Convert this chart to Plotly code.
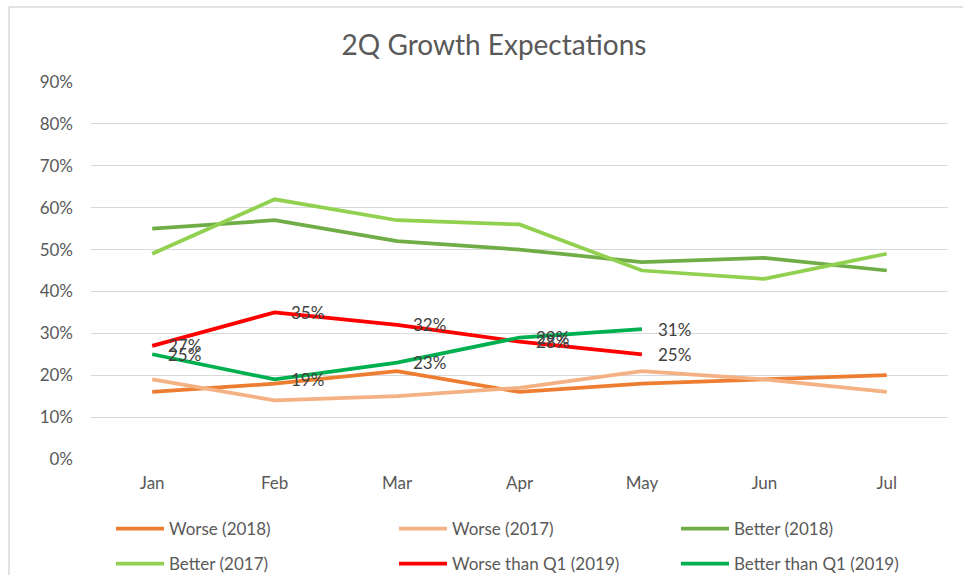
import plotly.graph_objects as go

months = ["Jan", "Feb", "Mar", "Apr", "May", "Jun", "Jul"]
worse_2018 = [16, 18, 21, 16, 18, 19, 20]
worse_2017 = [19, 14, 15, 17, 21, 19, 16]
better_2018 = [55, 57, 52, 50, 47, 48, 45]
better_2017 = [49, 62, 57, 56, 45, 43, 49]
worse_q1_2019 = [27, 35, 32, 28, 25]
better_q1_2019 = [25, 19, 23, 29, 31]

FONT = "Lato, Open Sans, sans-serif"
GREY = "#595959"

series = [
    ("Worse (2018)", worse_2018, "#ED7D31"),
    ("Worse (2017)", worse_2017, "#F4B183"),
    ("Better (2018)", better_2018, "#70AD47"),
    ("Better (2017)", better_2017, "#92D050"),
    ("Worse than Q1 (2019)", worse_q1_2019, "#FF0000"),
    ("Better than Q1 (2019)", better_q1_2019, "#00B050"),
]

W, H = 963, 575
L, R, T, B = 91, 15, 82, 116
leg_cols = [111, 394, 676]
leg_rows = [529, 564]

fig = go.Figure()
legends = {}
for i, (name, vals, color) in enumerate(series):
    key = "legend" if i == 0 else f"legend{i + 1}"
    fig.add_trace(go.Scatter(
        x=months[:len(vals)], y=[v / 100 for v in vals], name=name,
        mode="lines", line=dict(color=color, width=3.75),
        legend=key, hoverinfo="skip", showlegend=True,
    ))
    legends[key] = dict(
        orientation="h", xref="container", yref="container",
        x=leg_cols[i % 3] / W, y=1 - leg_rows[i // 3] / H,
        xanchor="left", yanchor="middle", itemwidth=48,
        font=dict(family=FONT, size=17, color=GREY),
        bgcolor="rgba(0,0,0,0)", visible=True,
    )

annotations = []
for vals in (worse_q1_2019, better_q1_2019):
    for m, v in zip(months, vals):
        annotations.append(dict(
            x=m, y=v / 100, xref="x", yref="y", text=f"{v}%",
            showarrow=False, xanchor="left", yanchor="middle", xshift=14,
            font=dict(family=FONT, size=17, color="#404040"),
        ))

pw = W - L - R
ph = H - T - B
bx = (9 - L) / pw          # left border, paper coords
by = (H - B - 7) / ph      # top border, paper coords
fig.update_layout(
    width=W, height=H, showlegend=True,
    margin=dict(l=L, r=R, t=T, b=B, autoexpand=False),
    paper_bgcolor="white", plot_bgcolor="white",
    title=dict(text="2Q Growth Expectations", x=494 / W, xanchor="center",
               y=1 - 45 / H, yanchor="middle", yref="container",
               font=dict(family=FONT, size=28, color=GREY)),
    xaxis=dict(showgrid=False, showline=False, zeroline=False,
               tickfont=dict(family=FONT, size=17, color=GREY),
               ticks="", ticklabelstandoff=12, range=[-0.5, 6.5], fixedrange=True),
    yaxis=dict(range=[0, 0.9], dtick=0.1, tickformat=".0%",
               gridcolor="#D9D9D9", gridwidth=1, zeroline=False, showline=False,
               tickfont=dict(family=FONT, size=17, color=GREY),
               ticks="", ticklabelstandoff=17, fixedrange=True),
    annotations=annotations,
    shapes=[
        dict(type="line", xref="paper", yref="paper", x0=bx, x1=bx,
             y0=-(B + 10) / ph, y1=by, line=dict(color="#D9D9D9", width=1.5), layer="below"),
        dict(type="line", xref="paper", yref="paper", x0=bx, x1=(W + 10 - L) / pw,
             y0=by, y1=by, line=dict(color="#D9D9D9", width=1.5), layer="below"),
    ],
)
fig.update_layout(**legends)

fig.write_html(
    "out.html",
    config={"displayModeBar": False},
    post_script="document.body.style.margin='0';document.body.style.overflow='hidden';",
)
